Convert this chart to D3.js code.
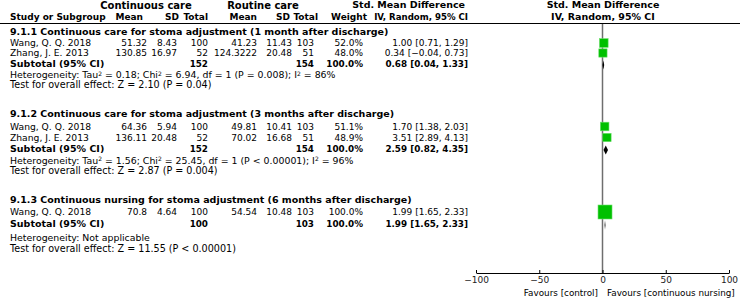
<!DOCTYPE html>
<html>
<head>
<meta charset="utf-8">
<script src="https://cdn.jsdelivr.net/npm/d3@7"></script>
<style>
  body { margin: 0; background: #fff; }
  svg { font-family: 'DejaVu Sans', sans-serif; font-size: 9.2px; }
  .b { font-weight: bold; font-size: 9.5px; }
  .h { font-weight: bold; font-size: 9px; }
  .h2 { font-weight: bold; font-size: 8.6px; }
  .gh { font-weight: bold; font-size: 10px; }
  .n { font-size: 9px; }
  .nb { font-size: 8.8px; font-weight: bold; }
  .t { font-size: 9.6px; }
  .het { font-size: 9.4px; }
  .fav { font-size: 8.8px; }
</style>
</head>
<body>
<svg></svg>
<script>
const width = 740;
const height = 299;

// data
const groupTitles = [
  '9.1.1 Continuous care for stoma adjustment (1 month after discharge)',
  '9.1.2 Continuous care for stoma adjustment (3 months after discharge)',
  '9.1.3 Continuous nursing for stoma adjustment (6 months after discharge)'
];
const studyGroup = [0, 0, 1, 1, 2];
const studyNames = ['Wang, Q. Q. 2018', 'Zhang, J. E. 2013', 'Wang, Q. Q. 2018', 'Zhang, J. E. 2013', 'Wang, Q. Q. 2018'];
const contMean = [51.32, 130.85, 64.36, 136.11, 70.8];
const contSD = [8.43, 16.97, 5.94, 20.48, 4.64];
const contN = [100, 52, 100, 52, 100];
const routMean = [41.23, 124.3222, 49.81, 70.02, 54.54];
const routSD = [11.43, 20.48, 10.41, 16.68, 10.48];
const routN = [103, 51, 103, 51, 103];
const weights = [52.0, 48.0, 51.1, 48.9, 100.0];
const smd = [1.00, 0.34, 1.70, 3.51, 1.99];
const smdLo = [0.71, -0.04, 1.38, 2.89, 1.65];
const smdHi = [1.29, 0.73, 2.03, 4.13, 2.33];

const subContN = [152, 152, 100];
const subRoutN = [154, 154, 103];
const subSmd = [0.68, 2.59, 1.99];
const subLo = [0.04, 0.82, 1.65];
const subHi = [1.33, 4.35, 2.33];
const hetText = [
  ['Heterogeneity: Tau', '2', ' = 0.18; Chi', '2', ' = 6.94, df = 1 (P = 0.008); I', '2', ' = 86%'],
  ['Heterogeneity: Tau', '2', ' = 1.56; Chi', '2', ' = 25.45, df = 1 (P < 0.00001); I', '2', ' = 96%'],
  ['Heterogeneity: Not applicable']
];
const effectText = [
  'Test for overall effect: Z = 2.10 (P = 0.04)',
  'Test for overall effect: Z = 2.87 (P = 0.004)',
  'Test for overall effect: Z = 11.55 (P < 0.00001)'
];
const axisTicks = [-100, -50, 0, 50, 100];

// row layout (text centres)
const rowsY = [
  {title: 32, studies: [43, 53], sub: 63.5, het: 75, test: 85},
  {title: 114, studies: [126.5, 137.5], sub: 148.5, het: 160.5, test: 171},
  {title: 200, studies: [212], sub: 223.5, het: 237.5, test: 248.5}
];

const svg = d3.select('svg')
  .attr('width', width)
  .attr('height', height);

const f2 = d3.format('.2f');
const f1 = d3.format('.1f');
const ciText = (m, l, h) => `${f2(m)} [${f2(l)}, ${f2(h)}]`;

const x = d3.scaleLinear().domain([-100, 100]).range([476, 729]);
const boxSize = d3.scaleLinear().domain([0, 100]).range([3, 14]);

function txt(xp, y, s, anchor, cls) {
  return svg.append('text')
    .attr('x', xp)
    .attr('y', y)
    .attr('dy', '0.35em')
    .attr('text-anchor', anchor || 'start')
    .attr('class', cls || null)
    .text(s);
}

// headers
txt(146, 5, 'Continuous care', 'middle', 'gh');
txt(263, 5, 'Routine care', 'middle', 'gh');
txt(465, 5, 'Std. Mean Difference', 'end', 'b');
txt(603, 5, 'Std. Mean Difference', 'middle', 'b');
txt(10, 17, 'Study or Subgroup', 'start', 'h');
txt(143, 17, 'Mean', 'end', 'h');
txt(179, 17, 'SD', 'end', 'h');
txt(208, 17, 'Total', 'end', 'h');
txt(257, 17, 'Mean', 'end', 'h');
txt(290, 17, 'SD', 'end', 'h');
txt(318, 17, 'Total', 'end', 'h');
txt(367, 17, 'Weight', 'end', 'h');
txt(468, 17, 'IV, Random, 95% CI', 'end', 'h2');
txt(603, 17, 'IV, Random, 95% CI', 'middle', 'b');

svg.append('line')
  .attr('x1', 0).attr('x2', width)
  .attr('y1', 23.5).attr('y2', 23.5)
  .attr('stroke', '#000').attr('stroke-width', 1);

// zero line
svg.append('line')
  .attr('x1', x(0)).attr('x2', x(0))
  .attr('y1', 24).attr('y2', 273)
  .attr('stroke', '#6e6e6e').attr('stroke-width', 1.5);

// groups
groupTitles.forEach((t, g) => {
  const r = rowsY[g];
  txt(10, r.title, t, 'start', 'b');

  const idx = studyGroup.map((d, i) => d === g ? i : -1).filter(i => i >= 0);
  idx.forEach((i, k) => {
    const y = r.studies[k];
    txt(10, y, studyNames[i]);
    txt(147, y, String(contMean[i]), 'end', 'n');
    txt(177, y, String(contSD[i]), 'end', 'n');
    txt(208, y, String(contN[i]), 'end', 'n');
    txt(257, y, String(routMean[i]), 'end', 'n');
    txt(292, y, String(routSD[i]), 'end', 'n');
    txt(314, y, String(routN[i]), 'end', 'n');
    txt(363, y, f1(weights[i]) + '%', 'end', 'n');
    txt(468, y, ciText(smd[i], smdLo[i], smdHi[i]), 'end', 'n');

    svg.append('line')
      .attr('x1', x(smdLo[i])).attr('x2', x(smdHi[i]))
      .attr('y1', y).attr('y2', y)
      .attr('stroke', '#000');
    const s = boxSize(weights[i]);
    svg.append('rect')
      .attr('x', x(smd[i]) - s / 2)
      .attr('y', y - s / 2)
      .attr('width', s).attr('height', s)
      .attr('fill', '#00c000')
      .attr('stroke', '#6ee06e')
      .attr('stroke-width', 0.6);
  });

  txt(10, r.sub, 'Subtotal (95% CI)', 'start', 'b');
  txt(208, r.sub, String(subContN[g]), 'end', 'nb');
  txt(314, r.sub, String(subRoutN[g]), 'end', 'nb');
  txt(363, r.sub, '100.0%', 'end', 'nb');
  txt(468, r.sub, ciText(subSmd[g], subLo[g], subHi[g]), 'end', 'nb');

  const dy = r.sub + 1.5;
  svg.append('path')
    .attr('d', d3.line()([
      [x(subLo[g]), dy], [x(subSmd[g]), dy - 4.5],
      [x(subHi[g]), dy], [x(subSmd[g]), dy + 4.5]
    ]) + 'Z')
    .attr('fill', '#000');

  const het = svg.append('text')
    .attr('class', 'het')
    .attr('x', 10).attr('y', r.het).attr('dy', '0.35em');
  hetText[g].forEach((p, j) => {
    if (j % 2 === 1) {
      het.append('tspan').attr('dy', '-0.4em').attr('font-size', '6px').text(p);
    } else {
      het.append('tspan').attr('dy', j === 0 ? null : '0.25em').text(p);
    }
  });
  txt(10, r.test, effectText[g], 'start', 't');
});

// axis
const xAxis = d3.axisBottom(x)
  .tickValues(axisTicks)
  .tickSize(-3)
  .tickSizeOuter(0)
  .tickPadding(4)
  .tickFormat(d3.format('d'));

const ax = svg.append('g')
  .attr('transform', 'translate(0, 273)')
  .call(xAxis);
ax.attr('font-family', null).attr('font-size', '9px');
ax.selectAll('text').attr('fill', '#222');
ax.select('.domain').attr('stroke', '#000');

txt(598, 293, 'Favours [control]', 'end', 'fav');
txt(607, 293, 'Favours [continuous nursing]', 'start', 'fav');
</script>
</body>
</html>
